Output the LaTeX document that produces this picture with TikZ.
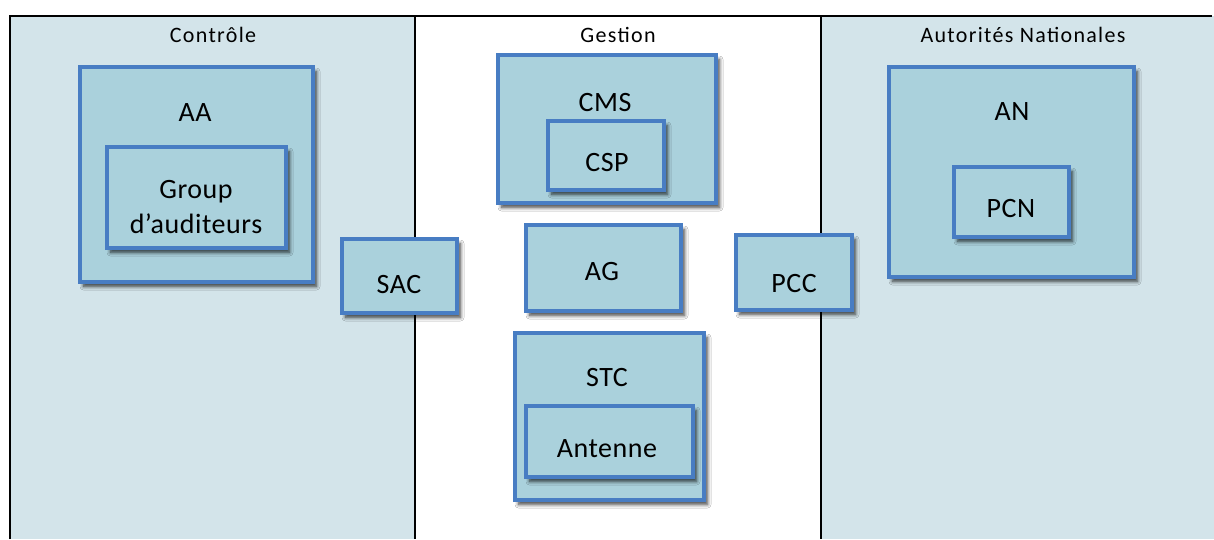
\documentclass[tikz,border=0pt]{standalone}
\usepackage{fontspec}
\setmainfont{Carlito}
\newfontfamily\labfont[LetterSpace=2]{Carlito}
\newfontfamily\titlefont[LetterSpace=6]{Carlito}
\usetikzlibrary{shadows.blur}
\definecolor{panelfill}{RGB}{211,228,234}
\definecolor{boxfill}{RGB}{170,209,220}
\definecolor{boxline}{RGB}{72,125,195}
\tikzset{
  box/.style={draw=boxline, line width=3.2pt, fill=boxfill, rectangle, inner sep=0pt,
    blur shadow={shadow xshift=3.5pt, shadow yshift=-4.5pt, shadow blur steps=8, shadow blur radius=3.5pt, shadow opacity=75}},
  title/.style={font=\titlefont\fontsize{22}{26}\selectfont, inner sep=0pt},
  lab/.style={font=\labfont\fontsize{28}{35}\selectfont, inner sep=0pt, align=center},
  frame/.style={line width=1.6pt, black}
}
\begin{document}
\begin{tikzpicture}[x=1pt,y=-1pt]
\useasboundingbox (0,0) rectangle (1214,539);
% panels
\fill[white] (0,0) rectangle (1214,539);
\fill[panelfill] (10,16) rectangle (415,539);
\fill[panelfill] (821,16) rectangle (1214,539);
\coordinate (tl) at (10,16);
\coordinate (tr) at (1212,16);
\coordinate (bl) at (10,539);
\coordinate (d1t) at (415,16);
\coordinate (d1b) at (415,539);
\coordinate (d2t) at (821,16);
\coordinate (d2b) at (821,539);
\draw[frame] (bl) -- (tl) -- (tr);
\draw[frame] (d1t) -- (d1b);
\draw[frame] (d2t) -- (d2b);
% panel titles
\node[title] (tcontrole) at (213,35) {Contrôle};
\node[title] (tgestion) at (618,35) {Gestion};
\node[title] (tautorites) at (1023,35) {Autorités Nationales};
% Contrôle
\node[box, minimum width=233pt, minimum height=215pt] (aa) at (196.5,174.5) {};
\node[box, minimum width=179pt, minimum height=101pt] (grp) at (196.5,197.5) {};
\node[lab] (laa) at (195,113) {AA};
\node[lab] (lgrp) at (196,207) {Group\\d’auditeurs};
% Gestion
\node[box, minimum width=218pt, minimum height=148pt] (cms) at (607,129) {};
\node[box, minimum width=116pt, minimum height=69pt] (csp) at (606,155.5) {};
\node[lab] (lcms) at (605,103) {CMS};
\node[lab] (lcsp) at (607,163) {CSP};
\node[box, minimum width=155pt, minimum height=86pt] (ag) at (603.5,268) {};
\node[lab] (lag) at (602,272) {AG};
\node[box, minimum width=189pt, minimum height=167pt] (stc) at (609.5,416.5) {};
\node[box, minimum width=167pt, minimum height=71pt] (ant) at (609.5,441.5) {};
\node[lab] (lstc) at (607,378) {STC};
\node[lab] (lant) at (607,449) {Antenne};
% boxes straddling the dividers
\node[box, minimum width=115pt, minimum height=74pt] (sac) at (399.5,276) {};
\node[lab] (lsac) at (399,285) {SAC};
\node[box, minimum width=116pt, minimum height=75pt] (pcc) at (794,272.5) {};
\node[lab] (lpcc) at (794,284) {PCC};
% Autorités Nationales
\node[box, minimum width=245pt, minimum height=210pt] (an) at (1011.5,172) {};
\node[box, minimum width=115pt, minimum height=70pt] (pcn) at (1011.5,202) {};
\node[lab] (lan) at (1012,112) {AN};
\node[lab] (lpcn) at (1011,209) {PCN};
\end{tikzpicture}
\end{document}
